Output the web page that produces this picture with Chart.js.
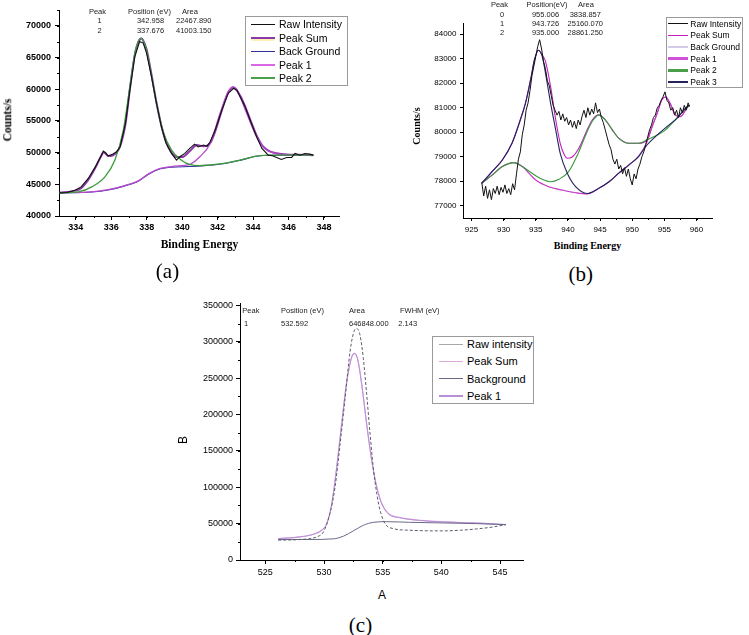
<!DOCTYPE html>
<html lang="en">
<head>
  <meta charset="UTF-8" />
  <title>XPS peak fits (a) (b) (c)</title>
  <script src="https://cdn.jsdelivr.net/npm/chart.js"></script>
  <style>
    body { margin: 0; width: 749px; height: 635px; background: #fff; position: relative; overflow: hidden;
           font-family: "Liberation Sans", Arial, sans-serif; color: #000; }
    canvas { position: absolute; }
    .t { position: absolute; white-space: nowrap; line-height: 1; transform: translate(-50%, -50%); }
    .tab { font-size: 7.5px; color: #222; }
    .serif { font-family: "Liberation Serif", "Times New Roman", serif; }
    .lg { position: absolute; border: 1px solid #9a9a9a; background: #fff; }
    .lg div { position: absolute; white-space: nowrap; line-height: 1; }
  </style>
</head>
<body>
  <canvas id="chartA" width="360" height="240" style="left:0;top:0"></canvas>
  <canvas id="chartB" width="369" height="240" style="left:380px;top:0"></canvas>
  <canvas id="chartC" width="380" height="290" style="left:180px;top:295px"></canvas>

  <script>
    // ---------- (a) Sn 3d ----------
    const aXTicks = [334, 336, 338, 340, 342, 344, 346, 348];
    const aYTicks = [40000, 45000, 50000, 55000, 60000, 65000, 70000];
    const aRaw = [[333.0,43640],[333.5,43700],[333.95,44070],[334.3,44590],[334.7,45920],[335.1,47750],[335.4,49340],
      [335.55,50240],[335.7,49900],[335.83,49490],[336.07,49760],[336.3,50130],[336.5,50920],[336.8,54620],[337.05,59890],
      [337.33,65160],[337.6,67530],[337.8,67280],[337.99,65700],[338.27,62000],[338.55,57790],[338.83,54080],[339.1,51450],
      [339.4,49870],[339.68,48810],[339.87,49340],[340.15,49870],[340.43,50660],[340.7,51340],[340.9,50900],[341.2,51190],
      [341.4,51000],[341.58,51710],[341.86,53560],[342.24,56720],[342.6,59360],[342.9,60150],[343.1,59800],[343.27,58830],
      [343.55,57250],[343.83,55140],[344.2,52500],[344.5,50660],[344.86,49600],[345.1,49500],[345.33,49240],[345.6,48920],
      [345.9,49240],[346.18,49240],[346.37,49870],[346.65,49600],[346.93,49870],[347.2,49760],[347.4,49600]];
    const aSum = [[333.0,43640],[333.95,44000],[334.3,44400],[334.7,45700],[335.1,47600],[335.4,49300],[335.58,50050],
      [335.83,49450],[336.07,49550],[336.3,50050],[336.5,51000],[336.8,54500],[337.05,60000],[337.33,65500],[337.6,67800],
      [337.7,68000],[337.8,67700],[337.99,66300],[338.27,62300],[338.55,57900],[338.83,54200],[339.1,51600],[339.4,50000],
      [339.7,49300],[340.0,49300],[340.45,50300],[340.83,51200],[341.2,51000],[341.58,51500],[341.86,53300],[342.24,56700],
      [342.6,59500],[342.9,60300],[343.27,59000],[343.55,57300],[343.83,55300],[344.2,52700],[344.5,51200],[344.86,50300],
      [345.33,49900],[345.9,49700],[346.5,49650],[347.4,49600]];
    const aBg = [[333.0,43640],[334.9,43780],[335.83,44100],[336.77,44750],[337.52,45500],[338.08,46550],[338.65,47350],
      [339.4,47700],[340.45,47800],[341.4,47980],[342.33,48250],[343.27,48780],[344.2,49420],[345.14,49580],[347.4,49590]];
    const aPeak1 = [[333.0,43640],[334.9,43800],[335.83,44150],[336.77,44800],[337.52,45550],[338.08,46600],[338.65,47400],
      [339.4,47800],[340.15,48000],[340.45,48150],[341.0,49340],[341.58,51450],[342.14,56200],[342.6,59620],[342.86,60310],
      [343.17,59360],[343.64,56200],[344.11,53040],[344.58,50820],[345.14,49970],[346.08,49600],[347.4,49600]];
    const aPeak2 = [[333.0,43640],[334.14,43800],[334.9,44590],[335.64,46170],[336.2,48810],[336.68,53560],[337.05,60410],
      [337.37,66220],[337.67,68070],[337.93,66740],[338.24,62530],[338.55,57790],[338.93,53290],[339.4,50400],[339.96,48810],
      [340.45,48100],[341.0,47950],[341.4,48020],[342.33,48290],[343.27,48810],[344.2,49450],[345.14,49600],[347.4,49600]];

    // ---------- (b) Cu 2p ----------
    const bXTicks = [925, 930, 935, 940, 945, 950, 955, 960];
    const bYTicks = [77000, 78000, 79000, 80000, 81000, 82000, 83000, 84000];
    const bRaw = [[926.6,77950],[926.9,77400],[927.2,77800],[927.5,77300],[927.8,77650],[928.1,77250],[928.4,77700],
      [928.7,77500],[929.0,77800],[929.3,77450],[929.6,77750],[929.9,77550],[930.2,77850],[930.5,77500],[930.8,77700],
      [931.1,77450],[931.4,77900],[931.7,77650],[932.0,78300],[932.3,78900],[932.6,79200],[932.9,79900],[933.2,80300],
      [933.5,80900],[933.8,81200],[934.1,81700],[934.4,82300],[934.7,82700],[935.0,83100],[935.3,83500],[935.6,83780],
      [935.9,83400],[936.2,82900],[936.5,82600],[936.8,82100],[937.1,81900],[937.4,81500],[937.7,81100],[938.0,80900],
      [938.3,80700],[938.6,80850],[938.9,80500],[939.2,80750],[939.5,80450],[939.8,80600],[940.1,80300],[940.4,80500],
      [940.7,80200],[941.0,80450],[941.3,80150],[941.6,80500],[941.9,80300],[942.2,80650],[942.5,80900],[942.8,80600],
      [943.1,81000],[943.4,80700],[943.7,80950],[944.0,80750],[944.3,81200],[944.6,80800],[944.9,80950],[945.2,80600],
      [945.5,80400],[945.8,80100],[946.1,79800],[946.4,79500],[946.7,79300],[947.0,78900],[947.3,78700],[947.6,78900],
      [947.9,78500],[948.2,78650],[948.5,78300],[948.8,78550],[949.1,78200],[949.4,78500],[949.7,78100],[950.0,77850],
      [950.3,78300],[950.6,78100],[950.9,78500],[951.2,78700],[951.5,79000],[951.8,79200],[952.1,79500],[952.4,79800],
      [952.7,80100],[953.0,80300],[953.3,80600],[953.6,80700],[953.9,81000],[954.2,81100],[954.5,81300],[954.8,81450],
      [955.1,81650],[955.4,81300],[955.7,81200],[956.0,80900],[956.3,81000],[956.6,80700],[956.9,80900],[957.2,80600],
      [957.5,81000],[957.8,80800],[958.1,81100],[958.4,80900],[958.7,81200],[958.9,81050]];
    const bSum = [[926.6,77920],[928.2,78390],[929.8,78870],[931.3,79550],[932.6,80510],[933.4,81190],[934.2,82150],
      [934.8,82960],[935.4,83350],[936.0,83150],[936.5,82900],[937.3,81870],[938.1,80510],[938.8,79550],[939.4,79100],
      [939.9,78940],[940.6,78980],[941.7,79350],[943.0,80100],[943.8,80510],[944.8,80710],[945.8,80510],[946.9,80100],
      [947.9,79760],[949.5,79550],[951.0,79550],[952.3,79690],[953.1,80230],[953.9,80780],[954.6,81330],[955.2,81440],
      [956.0,81120],[956.7,80710],[957.5,80640],[958.5,80990],[958.9,81100]];
    const bBg = [[926.6,77920],[928.2,78250],[929.8,78600],[931.6,78760],[932.9,78600],[935.0,78050],[937.0,77780],
      [939.1,77640],[941.2,77530],[943.0,77480],[944.8,77710],[946.4,77980],[947.9,78330],[949.5,78670],[951.0,79010],
      [952.3,79480],[953.9,79890],[955.4,80230],[957.0,80580],[958.5,81030],[958.9,81100]];
    const bPeak1 = [[926.6,77920],[928.2,78250],[929.8,78600],[931.6,78760],[932.9,78600],[935.0,78050],[937.0,77780],
      [939.1,77640],[941.2,77530],[943.0,77480],[944.8,77710],[946.4,77980],[947.9,78330],[949.5,78670],[951.0,79030],
      [952.3,79600],[953.1,80230],[953.9,80780],[954.6,81330],[955.2,81440],[956.0,81120],[956.7,80710],[957.5,80640],
      [958.5,80990],[958.9,81100]];
    const bPeak2 = [[926.6,77920],[928.2,78250],[929.8,78600],[931.6,78760],[932.9,78600],[934.4,78330],[936.0,78080],
      [937.3,77980],[938.6,78080],[940.1,78390],[941.7,79200],[942.7,79850],[943.8,80450],[944.8,80700],[945.8,80510],
      [946.9,80100],[947.9,79760],[949.5,79550],[951.0,79550],[952.3,79690],[953.9,79890],[955.2,80100],[956.7,80510],
      [958.3,80990],[958.9,81100]];
    const bPeak3 = [[926.6,77920],[928.2,78390],[929.8,78870],[931.3,79550],[932.6,80510],[933.4,81190],[934.2,82150],
      [934.8,82960],[935.4,83350],[936.0,83100],[936.6,82280],[937.3,81190],[938.1,80100],[938.8,79140],[939.9,78330],
      [941.2,77780],[943.0,77500],[944.8,77710],[946.4,77980],[947.9,78330],[949.5,78670],[951.0,79010],[952.3,79480],
      [953.9,79890],[955.4,80230],[957.0,80580],[958.5,81030],[958.9,81100]];

    // ---------- (c) O 1s ----------
    const cXTicks = [525, 530, 535, 540, 545];
    const cYTicks = [0, 50000, 100000, 150000, 200000, 250000, 300000, 350000];
    const cRaw = [[526.1,27270],[527.96,28180],[529.38,31820],[529.95,38640],[530.5,63640],[530.94,100000],[531.37,159100],
      [531.8,222700],[532.22,286400],[532.56,314500],[532.79,318100],[533.07,309100],[533.35,277200],[533.64,227300],
      [533.93,172700],[534.2,127200],[534.5,90900],[534.78,68200],[535.2,50000],[535.9,43200],[537.3,40900],[539.9,40000],
      [541.6,40900],[543.0,42700],[544.4,45400],[545.5,48600]];
    const cSum = [[526.1,29550],[527.96,31820],[529.1,35450],[529.8,40900],[530.23,50000],[530.66,77300],[531.08,127200],
      [531.5,186400],[531.94,245400],[532.37,279500],[532.62,284000],[532.88,275000],[533.22,240900],[533.64,186400],
      [534.07,136400],[534.5,100000],[534.93,77300],[535.5,63600],[536.5,58200],[538.2,54500],[540.46,52300],[543.0,50900],
      [545.5,48600]];
    const cBg = [[526.1,28200],[528.8,28200],[530.8,29100],[531.65,32700],[532.5,40000],[533.35,47700],[534.2,51800],
      [535.35,52700],[537.3,51800],[540.2,50900],[543.0,50000],[545.5,48600]];
    const cPeak1 = [[526.1,29450],[527.96,31750],[529.1,35400],[529.8,40800],[530.23,49800],[530.66,77000],[531.08,127000],
      [531.5,186200],[531.94,245200],[532.37,279300],[532.62,283800],[532.88,274800],[533.22,240700],[533.64,186200],
      [534.07,136200],[534.5,99800],[534.93,77100],[535.5,63400],[536.5,58000],[538.2,54300],[540.46,52100],[543.0,50700],
      [545.5,48600]];

    // fit tables printed inside the plots
    const aTable = [["Peak", "Position (eV)", "Area"], ["1", "342.958", "22467.890"], ["2", "337.676", "41003.150"]];
    const bTable = [["Peak", "Position(eV)", "Area"], ["0", "955.006", "3838.857"], ["1", "943.726", "25160.070"], ["2", "935.000", "28861.250"]];
    const cTable = [["Peak", "Position (eV)", "Area", "FWHM (eV)"], ["1", "532.592", "646848.000", "2.143"]];

    // Origin-style short minor ticks along both axes
    const minorTicks = {
      id: 'minorTicks',
      afterDraw(chart, args, opts) {
        const ctx = chart.ctx, a = chart.chartArea;
        const sx = chart.scales.x, sy = chart.scales.y;
        ctx.save();
        ctx.strokeStyle = '#000';
        ctx.lineWidth = 1;
        ctx.beginPath();
        if (opts.x) {
          const n0 = Math.ceil(sx.min / opts.x), n1 = Math.floor(sx.max / opts.x);
          for (let n = n0; n <= n1; n++) {
            const p = Math.round(sx.getPixelForValue(n * opts.x)) + 0.5;
            ctx.moveTo(p, a.bottom); ctx.lineTo(p, a.bottom + opts.len);
          }
        }
        if (opts.y) {
          const n0 = Math.ceil(sy.min / opts.y), n1 = Math.floor(sy.max / opts.y);
          for (let n = n0; n <= n1; n++) {
            const p = Math.round(sy.getPixelForValue(n * opts.y)) + 0.5;
            ctx.moveTo(a.left, p); ctx.lineTo(a.left - opts.len, p);
          }
        }
        ctx.stroke();
        ctx.restore();
      }
    };

    function series(pts, color, width, extra) {
      return Object.assign({
        data: pts.map(p => ({ x: p[0], y: p[1] })),
        borderColor: color, borderWidth: width, pointRadius: 0, fill: false,
        cubicInterpolationMode: 'monotone'
      }, extra || {});
    }
    const jagged = { cubicInterpolationMode: 'default', tension: 0 };

    function panel(id, datasets, cfg) {
      const font = { family: 'Liberation Sans', size: cfg.fontSize, weight: cfg.bold ? 'bold' : 'normal' };
      const axis = (r, list, pad, key, val) => ({
        type: 'linear', min: r[0], max: r[1],
        ticks: { autoSkip: false, maxRotation: 0, color: '#000', font, padding: pad, callback: v => String(v) },
        afterBuildTicks: s => { s.ticks = list.map(v => ({ value: v })); },
        grid: { drawOnChartArea: false, drawTicks: true, tickLength: cfg.tick, tickColor: '#000', tickWidth: 1 },
        border: { display: true, color: '#000', width: 1 },
        afterFit: s => { s[key] = val; }
      });
      return new Chart(document.getElementById(id), {
        type: 'line',
        data: { datasets },
        options: {
          responsive: false, animation: false, devicePixelRatio: 1, events: [],
          layout: { padding: cfg.pad },
          plugins: { legend: { display: false }, tooltip: { enabled: false }, minorTicks: cfg.minor },
          scales: {
            x: axis(cfg.x, cfg.xTicks, cfg.xPad, 'height', cfg.xH),
            y: axis(cfg.y, cfg.yTicks, cfg.yPad, 'width', cfg.yW)
          }
        },
        plugins: [minorTicks]
      });
    }

    panel('chartA', [
      series(aRaw, '#111', 1.1, jagged),
      series(aPeak2, '#3d9a3d', 1.3),
      series(aPeak1, '#b848d0', 1.3),
      series(aBg, '#30309a', 1.1),
      series(aSum, '#8e38a8', 2)
    ], { x: [333.05, 348.85], y: [40000, 72500], xTicks: aXTicks, yTicks: aYTicks, fontSize: 9, bold: true,
         tick: 4, xPad: 2, yPad: 4, pad: { left: 0, top: 10, right: 21, bottom: 0 }, xH: 24, yW: 59,
         minor: { x: 1, y: 2500, len: 2 } });

    panel('chartB', [
      series(bRaw, '#111', 1, jagged),
      series(bPeak3, '#24245e', 1.1),
      series(bPeak2, '#3a9a3a', 1.1),
      series(bPeak1, '#c838c8', 1.1),
      series(bSum, '#c020c0', 1.1),
      series(bBg, '#d4cce6', 1)
    ], { x: [923.68, 962.41], y: [76500, 84460], xTicks: bXTicks, yTicks: bYTicks, fontSize: 8, bold: false,
         tick: 3, xPad: 4, yPad: 3.5, pad: { left: 0, top: 23, right: 37, bottom: 0 }, xH: 22, yW: 83,
         minor: { x: 2.5, y: 0, len: 2 } });

    panel('chartC', [
      series(cRaw, '#5c5c6c', 1, { borderDash: [3, 2] }),
      series(cBg, '#6a6a8a', 1),
      series(cPeak1, '#b890d8', 1),
      series(cSum, '#dca8dc', 1.2)
    ], { x: [522.84, 546.96], y: [0, 352700], xTicks: cXTicks, yTicks: cYTicks, fontSize: 9, bold: false,
         tick: 4, xPad: 3, yPad: 3, pad: { left: 0, top: 6, right: 37, bottom: 0 }, xH: 25, yW: 60,
         minor: { x: 2.5, y: 25000, len: 2 } });

    // ---------- text ----------
    function put(txt, x, y, cls, style) {
      const d = document.createElement('div');
      d.className = 't ' + (cls || '');
      d.textContent = txt;
      d.style.left = x + 'px';
      d.style.top = y + 'px';
      Object.assign(d.style, style || {});
      document.body.appendChild(d);
      return d;
    }
    const rot = { transform: 'translate(-50%,-50%) rotate(-90deg)' };
    const leftMid = { transform: 'translateY(-50%)' };

    // tables
    const aCols = [[97.5, 99.5], [149.5, 150.5], [190, 193.7]], aRows = [11.7, 21.3, 30.7];
    aTable.forEach((row, r) => row.forEach((s, c) => put(s, aCols[c][r ? 1 : 0], aRows[r], 'tab')));
    const bCols = [[499.5, 502], [547, 545.5], [586, 585.3]], bRows = [5, 14.7, 24.3, 33.3];
    bTable.forEach((row, r) => row.forEach((s, c) => put(s, bCols[c][r ? 1 : 0], bRows[r], 'tab')));
    const cCols = [[242.3, 244], [281, 281], [349, 349], [400, 398.3]], cRows = [311, 323.5];
    cTable.forEach((row, r) => row.forEach((s, c) => put(s, cCols[c][r ? 1 : 0], cRows[r], 'tab', leftMid)));

    // axis titles and panel labels
    put('Counts/s', 7.5, 120, 'serif', Object.assign({ fontWeight: 'bold', fontSize: '11.5px' }, rot));
    put('Binding Energy', 199.5, 244.5, 'serif', { fontWeight: 'bold', fontSize: '11.5px' });
    put('(a)', 167.5, 270.8, 'serif', { fontSize: '21px' });
    put('Counts/s', 417.3, 126, 'serif', Object.assign({ fontWeight: 'bold', fontSize: '10px' }, rot));
    put('Binding Energy', 587.5, 245.7, 'serif', { fontWeight: 'bold', fontSize: '10px' });
    put('(b)', 580.8, 274, 'serif', { fontSize: '21px' });
    put('B', 182.5, 440, '', Object.assign({ fontSize: '12px' }, rot));
    put('A', 382, 595, '', { fontSize: '12px' });
    put('(c)', 360.5, 625, 'serif', { fontSize: '21px' });

    // legends
    function legend(box, rows, g) {
      const el = document.createElement('div');
      el.className = 'lg';
      Object.assign(el.style, { left: box[0] + 'px', top: box[1] + 'px', width: box[2] + 'px', height: box[3] + 'px' });
      rows.forEach((r, i) => {
        const cy = g.y0 + i * g.dy;
        if (r.halo) {
          const h = document.createElement('div');
          Object.assign(h.style, { left: g.sx + 'px', top: (cy - 1) + 'px', width: g.sw + 'px', height: '4px',
                                    background: r.halo, borderRadius: '2px' });
          el.appendChild(h);
        }
        const s = document.createElement('div');
        Object.assign(s.style, { left: g.sx + 'px', top: (cy - r.w / 2) + 'px', width: g.sw + 'px', height: r.w + 'px',
                                  background: r.c });
        el.appendChild(s);
        const t = document.createElement('div');
        t.textContent = r.t;
        Object.assign(t.style, { left: g.tx + 'px', top: cy + 'px', fontSize: g.fs + 'px', transform: 'translateY(-50%)' });
        el.appendChild(t);
      });
      document.body.appendChild(el);
    }
    legend([245, 16, 101, 68], [
      { t: 'Raw Intensity', c: '#111', w: 1 },
      { t: 'Peak Sum', c: '#8e38a8', w: 2.5, halo: '#fbf0b8' },
      { t: 'Back Ground', c: '#30309a', w: 1.5 },
      { t: 'Peak 1', c: '#d868e4', w: 1.5 },
      { t: 'Peak 2', c: '#4aa04a', w: 2 }
    ], { y0: 7.3, dy: 13.5, sx: 5, sw: 24, tx: 33, fs: 10.5 });
    legend([666, 16.7, 75, 69], [
      { t: 'Raw Intensity', c: '#111', w: 1.5 },
      { t: 'Peak Sum', c: '#c020c0', w: 1.5 },
      { t: 'Back Ground', c: '#d4cce6', w: 1.5 },
      { t: 'Peak 1', c: '#d050d8', w: 2.5 },
      { t: 'Peak 2', c: '#4aa04a', w: 2.5 },
      { t: 'Peak 3', c: '#24245e', w: 1.5 }
    ], { y0: 6, dy: 11.65, sx: 1.3, sw: 19.5, tx: 23.3, fs: 8.5 });
    legend([432.3, 335.7, 100, 66], [
      { t: 'Raw intensity', c: '#a8a8a8', w: 1.3 },
      { t: 'Peak Sum', c: '#dca8dc', w: 1.3 },
      { t: 'Background', c: '#6a6a8a', w: 1.3 },
      { t: 'Peak 1', c: '#b890d8', w: 1.3 }
    ], { y0: 7.6, dy: 17.2, sx: 5.7, sw: 23.7, tx: 33.7, fs: 11 });
  </script>
</body>
</html>
